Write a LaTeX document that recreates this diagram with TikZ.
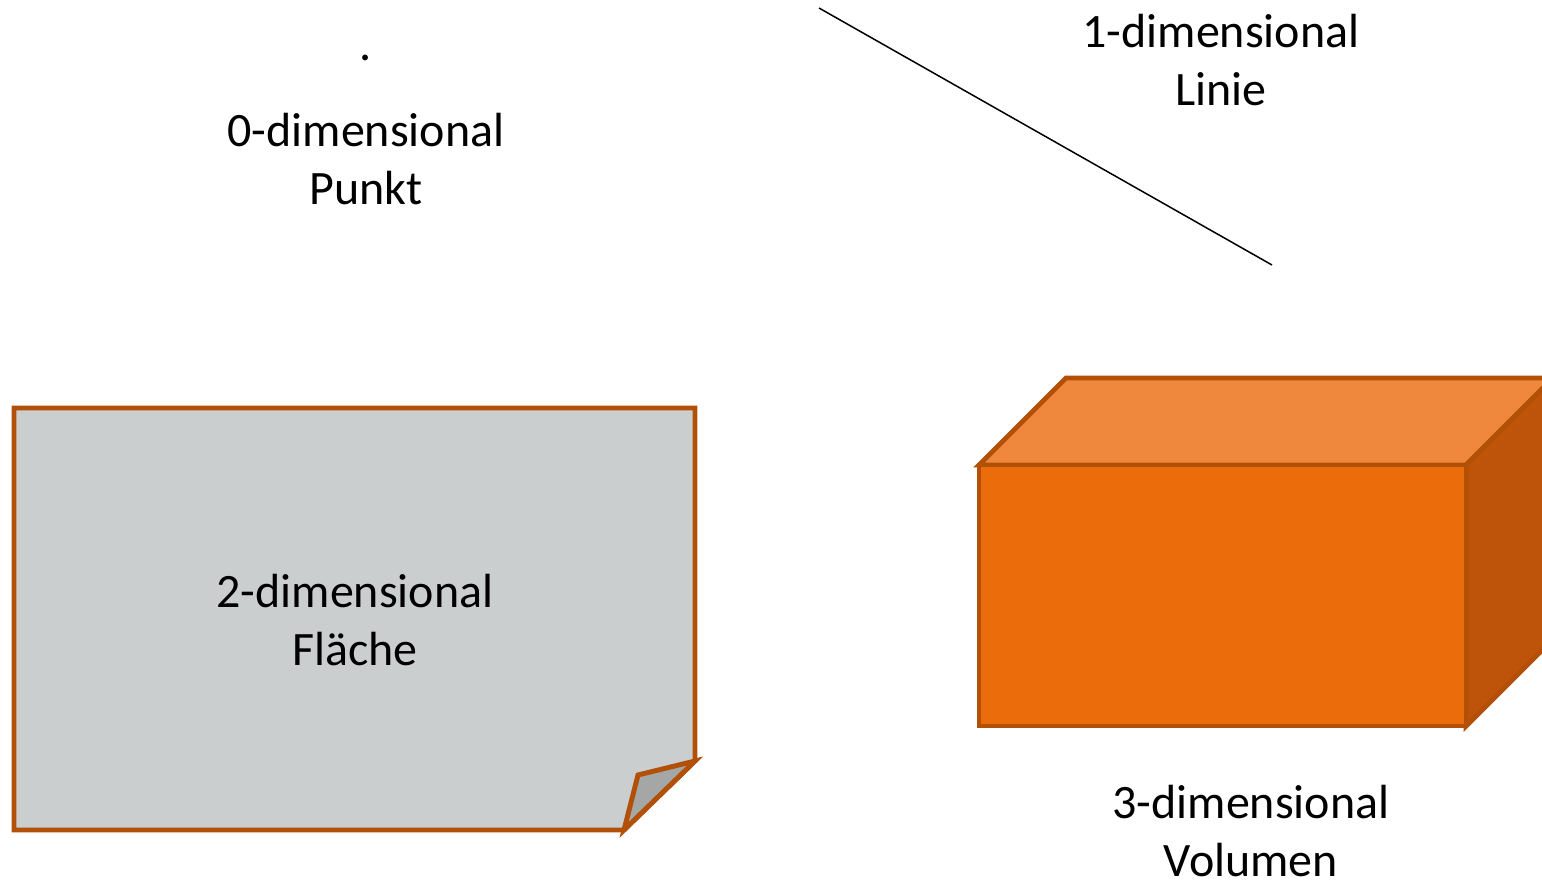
\documentclass[tikz,border=0pt]{standalone}
\usepackage{fontspec}
\setmainfont{Carlito}
\definecolor{edge}{RGB}{178,80,8}
\definecolor{paper}{RGB}{203,206,207}
\definecolor{fold}{RGB}{165,167,167}
\definecolor{front}{RGB}{234,108,11}
\definecolor{topf}{RGB}{239,136,60}
\definecolor{side}{RGB}{190,84,9}
\tikzset{
  lbl/.style={inner sep=0pt, align=center, font=\fontsize{27.3}{33}\selectfont},
  shp/.style={draw=edge, line width=2.8pt, line join=miter},
}
\begin{document}
\begin{tikzpicture}[x=0.02cm,y=-0.02cm]
\useasboundingbox (0,0) rectangle (1542,882);
% point
\node[lbl, anchor=base] (dot) at (366,61) {.};
\node[lbl] (t0) at (366,159) {0-dimensional\\Punkt};
% line
\coordinate (la) at (819,8);
\coordinate (lb) at (1272,265);
\draw[line width=0.85pt] (la) -- (lb);
\node[lbl] (t1) at (1221,60) {1-dimensional\\Linie};
% paper
\draw[shp, fill=paper] (14,408) -- (695,408) -- (695,761) -- (624,830) -- (14,830) -- cycle;
\draw[shp, fill=fold] (695,761) -- (638,775) -- (624,830) -- cycle;
\node[lbl] (t2) at (355,620) {2-dimensional\\Fläche};
% cube
\draw[shp, fill=topf] (979,465) -- (1066,378) -- (1553,378) -- (1466,465) -- cycle;
\draw[shp, fill=side] (1466,465) -- (1553,378) -- (1553,639) -- (1466,726) -- cycle;
\draw[shp, fill=front] (979,465) rectangle (1466,726);
\node[lbl] (t3) at (1251,831) {3-dimensional\\Volumen};
\end{tikzpicture}
\end{document}
